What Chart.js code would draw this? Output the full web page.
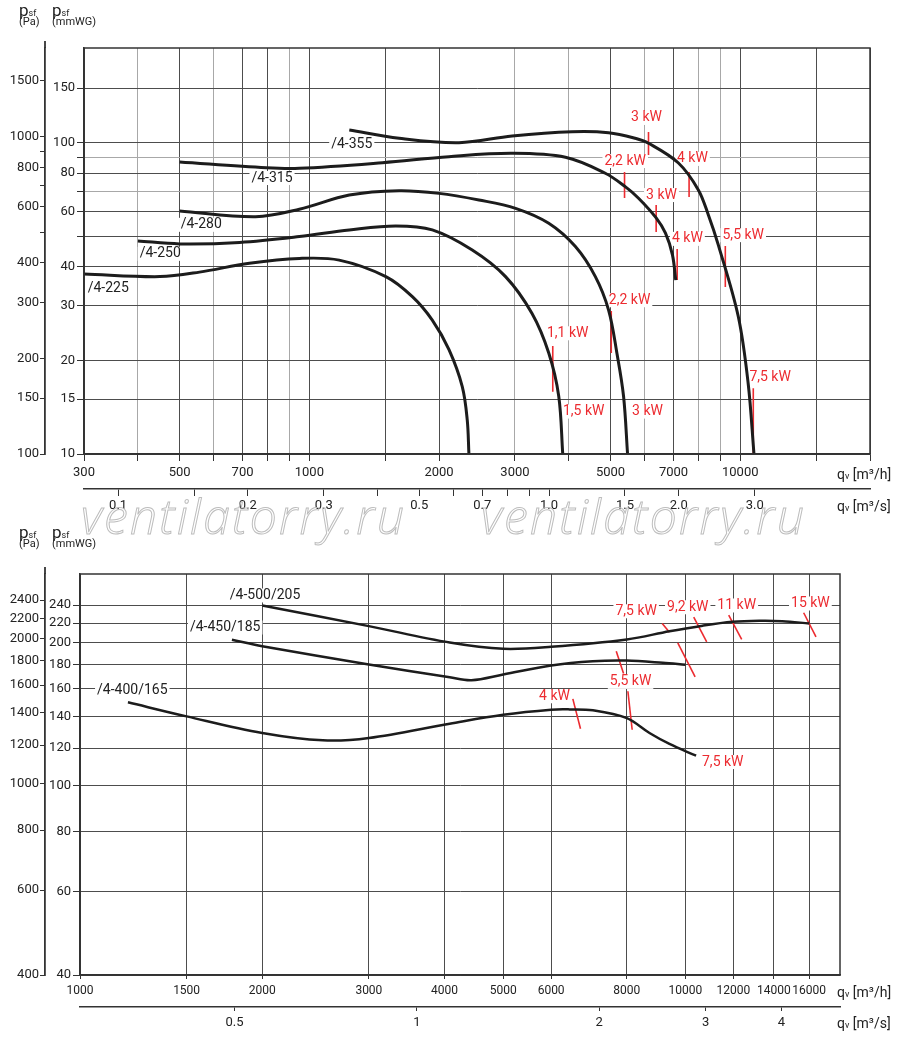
<!DOCTYPE html>
<html>
<head>
<meta charset="utf-8">
<script src="https://cdn.jsdelivr.net/npm/chart.js@4.4.1/dist/chart.umd.min.js"></script>
<style>
  html, body { margin: 0; padding: 0; background: #fff; width: 900px; height: 1042px; overflow: hidden; }
  body { position: relative; font-family: Roboto, sans-serif; color: #222; }
  .panel { position: absolute; left: 0; width: 900px; }
  #topWrap { top: 0; height: 520px; }
  #botWrap { top: 520px; height: 522px; }
  .hdr { position: absolute; line-height: 1; white-space: nowrap; }
  .hdr .p { font-size: 17px; }
  .hdr .sf { font-size: 9px; }
  .hdr .u { font-size: 11px; margin-top: -3px; }
  .unit { position: absolute; font-size: 14px; line-height: 1; white-space: nowrap; }
  .unit small { font-size: 9px; }
  .wm { position: absolute; font: italic 300 48px "Open Sans", sans-serif; letter-spacing: 2.3px; line-height: 1;
        color: transparent; -webkit-text-stroke: 1px #bdbdbd; white-space: nowrap; pointer-events: none; }
</style>
</head>
<body>
<div class="panel" id="topWrap"><canvas id="topChart"></canvas></div>
<div class="panel" id="botWrap"><canvas id="botChart"></canvas></div>

<div class="hdr" style="left:19px;top:2px"><span class="p">p</span><span class="sf">sf</span><div class="u">(Pa)</div></div>
<div class="hdr" style="left:52px;top:2px"><span class="p">p</span><span class="sf">sf</span><div class="u">(mmWG)</div></div>
<div class="hdr" style="left:19px;top:524px"><span class="p">p</span><span class="sf">sf</span><div class="u">(Pa)</div></div>
<div class="hdr" style="left:52px;top:524px"><span class="p">p</span><span class="sf">sf</span><div class="u">(mmWG)</div></div>

<div class="unit" style="left:837px;top:467px">q<small>v</small> [m³/h]</div>
<div class="unit" style="left:837px;top:499px">q<small>v</small> [m³/s]</div>
<div class="unit" style="left:837px;top:985px">q<small>v</small> [m³/h]</div>
<div class="unit" style="left:837px;top:1016px">q<small>v</small> [m³/s]</div>

<div class="wm" style="left:81px;top:492px">ventilatorry.ru</div>
<div class="wm" style="left:481px;top:492px">ventilatorry.ru</div>

<script>
// ---- upper chart: /4-225 ... /4-355, [m3/h, Pa]
const fan225 = [[300, 369], [450, 362], [556, 374], [726, 399], [948, 413], [1173, 408], [1505, 362],
  [1734, 313], [1929, 264], [2109, 213], [2264, 163], [2325, 128], [2346, 100]];
const fan250 = [[400, 469], [500, 459], [689, 464], [948, 484], [1238, 508], [1587, 523], [1929, 508],
  [2388, 439], [2853, 362], [3287, 277], [3594, 208], [3791, 152], [3873, 100]];
const fan280 = [[500, 583], [750, 559], [948, 590], [1238, 654], [1616, 675], [2000, 662], [2475, 631],
  [3010, 594], [3594, 533], [4144, 450], [4610, 362], [4948, 284], [5172, 208], [5360, 152], [5476, 100]];
const fan315 = [[500, 831], [795, 797], [948, 794], [1478, 827], [2109, 864], [2955, 885], [3929, 860],
  [4862, 766], [5408, 695], [5807, 639], [6380, 554], [6706, 496], [6960, 424], [7084, 353]];
const fan355 = [[1238, 1048], [1616, 987], [2225, 956], [2955, 1004], [4069, 1035], [4948, 1028],
  [5705, 987], [6124, 952], [7186, 825], [7993, 679], [8433, 566], [8895, 455], [9894, 271],
  [10430, 167], [10760, 100]];

// motor power marks: [m3/h, Pa from, Pa to]
const topPowerLines = [[6124, 1033, 874], [5388, 773, 640], [7607, 773, 645], [6380, 608, 500],
  [7138, 442, 353], [9232, 452, 336], [3672, 219, 157], [5019, 282, 208], [10720, 161, 100]];
const topPowerLabels = [["3 kW", 6058, 1144], ["2,2 kW", 5408, 837], ["4 kW", 7743, 850],
  ["3 kW", 6564, 654], ["4 kW", 7539, 476], ["5,5 kW", 10160, 489], ["1,1 kW", 3977, 240],
  ["1,5 kW", 4331, 136], ["2,2 kW", 5535, 305], ["3 kW", 6091, 136], ["7,5 kW", 11730, 174]];
const topNames = [["/4-355", 1124, 947], ["/4-315", 734, 740], ["/4-280", 503, 527],
  ["/4-250", 404, 427], ["/4-225", 306, 333]];

const topFlowTicks = [300, 400, 500, 600, 700, 800, 900, 1000, 1500, 2000, 3000, 4000, 5000, 6000,
  7000, 8000, 9000, 10000, 15000, 20000];
const topFlowLabels = [300, 500, 700, 1000, 2000, 3000, 5000, 7000, 10000];
const topFlowSecTicks = [0.1, 0.15, 0.2, 0.3, 0.4, 0.5, 0.6, 0.7, 0.8, 0.9, 1.0, 1.5, 2.0, 3.0];
const topFlowSecLabels = [0.1, 0.2, 0.3, 0.5, 0.7, 1.0, 1.5, 2.0, 3.0];
const topPaTicks = [100, 150, 200, 300, 400, 500, 600, 700, 800, 900, 1000, 1500];
const topPaLabels = [100, 150, 200, 300, 400, 600, 800, 1000, 1500];
const topMmTicks = [10, 15, 20, 30, 40, 50, 60, 70, 80, 90, 100, 150];
const topMmLabels = [10, 15, 20, 30, 40, 60, 80, 100, 150];

// ---- lower chart: /4-400/165 ... /4-500/205, [m3/h, Pa]
const fan400 = [[1200, 1473], [1500, 1377], [2000, 1272], [2518, 1228], [3000, 1242], [4080, 1330],
  [5000, 1388], [6000, 1422], [6437, 1424], [7031, 1418], [7985, 1367], [8722, 1272], [9410, 1207],
  [10414, 1141]];
const fan450 = [[1782, 1986], [2000, 1926], [3000, 1764], [4080, 1660], [4431, 1637], [5000, 1682],
  [6000, 1756], [7031, 1792], [7985, 1798], [9175, 1779], [10000, 1762]];
const fan500 = [[2000, 2340], [3000, 2120], [4080, 1960], [5000, 1902], [6000, 1920], [8000, 1989],
  [9410, 2069], [10678, 2125], [11967, 2164], [13248, 2175], [14455, 2171], [16020, 2147]];

// slanted marks: [[m3/h, Pa], [m3/h, Pa]]
const botPowerLines = [[[6516, 1497], [6709, 1298]], [[8034, 1553], [8166, 1292]],
  [[7686, 1880], [7903, 1690]], [[9712, 1957], [10375, 1663]], [[9154, 2147], [9410, 2059]],
  [[10320, 2212], [10842, 1967]], [[11788, 2234], [12385, 1989]], [[15677, 2260], [16430, 2014]]];
const botPowerLabels = [["4 kW", 6077, 1516], ["5,5 kW", 8116, 1624], ["7,5 kW", 8291, 2276],
  ["9,2 kW", 10088, 2320], ["11 kW", 12153, 2340], ["15 kW", 16083, 2362], ["7,5 kW", 11524, 1107]];
const botNames = [["/4-500/205", 1768, 2455], ["/4-450/185", 1519, 2106], ["/4-400/165", 1067, 1558]];

const botFlowTicks = [1000, 1500, 2000, 3000, 4000, 5000, 6000, 8000, 10000, 12000, 14000, 16000];
const botFlowSecTicks = [0.5, 1, 2, 3, 4];
const botPaTicks = [400, 600, 800, 1000, 1200, 1400, 1600, 1800, 2000, 2200, 2400];
const botMmTicks = [40, 60, 80, 100, 120, 140, 160, 180, 200, 220, 240];

const INK = "#1c1c1c";
const RED = "#ec2b30";
const AXIS = "#333";
const GRID_DARK = "#4d4d4d";
const GRID_LIGHT = "#a8a8a8";
const FONT = { family: "Roboto", size: 13 };

function fixedTicks(values) {
  return (scale) => { scale.ticks = values.map((v) => ({ value: v })); };
}

function onlyLabels(labeled, fmt = String) {
  return (v) => (labeled.includes(v) ? fmt(v) : "");
}

function curve(points, width) {
  return {
    data: points.map(([x, y]) => ({ x, y })),
    borderColor: INK, borderWidth: width, pointRadius: 0,
    tension: 0.35, xAxisID: "x", yAxisID: "pa",
  };
}

function mark(a, b) {
  return {
    data: [{ x: a[0], y: a[1] }, { x: b[0], y: b[1] }],
    borderColor: RED, borderWidth: 1.6, pointRadius: 0, tension: 0, xAxisID: "x", yAxisID: "pa",
  };
}

// label boxes: white patch goes under the curves, text goes over them
function eachLabel(chart, opts, fn) {
  const { ctx, scales } = chart;
  ctx.font = "14px Roboto";
  const put = (t, q, p, align, color) => {
    const w = ctx.measureText(t).width;
    const x = scales.x.getPixelForValue(q);
    fn(t, align === "center" ? x - w / 2 : x, scales.pa.getPixelForValue(p), w, color);
  };
  opts.names.forEach(([t, q, p]) => put(t, q, p, "left", "#222"));
  opts.power.forEach(([t, q, p]) => put(t, q, p, "center", RED));
}

const annotate = {
  id: "annotate",
  beforeDatasetsDraw(chart, args, opts) {
    const { ctx } = chart;
    ctx.save();
    ctx.fillStyle = "#fff";
    eachLabel(chart, opts, (t, x, y, w) => ctx.fillRect(x - 2, y - 7, w + 4, 14));
    ctx.restore();
  },
  afterDatasetsDraw(chart, args, opts) {
    const { ctx, chartArea: a, scales } = chart;
    ctx.save();
    ctx.strokeStyle = AXIS;
    ctx.lineWidth = 1.5;
    ctx.strokeRect(a.left, a.top, a.right - a.left, a.bottom - a.top);
    // pressure axis line runs a little above the plot frame
    ctx.lineWidth = 1.8;
    ctx.beginPath();
    ctx.moveTo(scales.pa.right, a.top);
    ctx.lineTo(scales.pa.right, a.top - 7);
    ctx.stroke();
    ctx.textBaseline = "middle";
    ctx.textAlign = "left";
    eachLabel(chart, opts, (t, x, y, w, color) => {
      ctx.fillStyle = color;
      ctx.fillText(t, x, y);
    });
    ctx.restore();
  },
};

function buildChart(id, c) {
  const lightGrid = (set) => (g) => (g.tick && set.includes(g.tick.value) ? GRID_LIGHT : GRID_DARK);
  return new Chart(document.getElementById(id), {
    type: "line",
    data: { datasets: c.datasets },
    options: {
      responsive: true,
      maintainAspectRatio: false,
      animation: false,
      events: [],
      layout: { padding: c.padding },
      plugins: {
        legend: { display: false },
        tooltip: { enabled: false },
        annotate: { names: c.names, power: c.power },
      },
      scales: {
        x: {
          type: "logarithmic", position: "bottom", weight: 0, min: c.qMin, max: c.qMax,
          afterBuildTicks: fixedTicks(c.flowTicks),
          afterFit: (s) => { s.height = c.xH; },
          ticks: { callback: onlyLabels(c.flowLabels), autoSkip: false, maxRotation: 0, minRotation: 0,
            color: "#222", font: { family: "Roboto", size: c.xFont }, padding: c.xPad },
          grid: { color: lightGrid(c.lightX), tickColor: AXIS, tickLength: c.xTick, lineWidth: 1 },
          border: { display: true, color: AXIS, width: 1.5 },
        },
        x2: {
          type: "logarithmic", position: "bottom", weight: 1, min: c.qMin / 3600, max: c.qMax / 3600,
          afterBuildTicks: fixedTicks(c.secTicks),
          afterFit: (s) => { s.height = c.x2H; },
          ticks: { callback: onlyLabels(c.secLabels, c.secFmt), autoSkip: false, maxRotation: 0, minRotation: 0,
            color: "#222", font: FONT, padding: c.x2Pad },
          grid: { drawOnChartArea: false, tickColor: AXIS, tickLength: c.x2Tick },
          border: { display: true, color: AXIS, width: 1.5 },
        },
        pa: {
          type: "logarithmic", position: "left", weight: 1, min: c.paMin, max: c.paMax,
          afterBuildTicks: fixedTicks(c.paTicks),
          afterFit: (s) => { s.width = c.paW; },
          ticks: { callback: onlyLabels(c.paLabels), autoSkip: false, color: "#222", font: FONT, padding: 1 },
          grid: { drawOnChartArea: false, tickColor: AXIS, tickLength: 5 },
          border: { display: true, color: AXIS, width: 1.8 },
        },
        mm: {
          type: "logarithmic", position: "left", weight: 0, min: c.mmMin, max: c.mmMax,
          afterBuildTicks: fixedTicks(c.mmTicks),
          afterFit: (s) => { s.width = c.mmW; },
          ticks: { callback: onlyLabels(c.mmLabels), autoSkip: false, color: "#222", font: FONT, padding: 2 },
          grid: { color: lightGrid(c.lightY), tickColor: AXIS, tickLength: 7, lineWidth: 1 },
          border: { display: true, color: AXIS, width: 1.5 },
        },
      },
    },
    plugins: [annotate],
  });
}

buildChart("topChart", {
  datasets: [
    curve(fan225, 3), curve(fan250, 3), curve(fan280, 3), curve(fan315, 3), curve(fan355, 3),
    ...topPowerLines.map(([q, p1, p2]) => mark([q, p1], [q, p2])),
  ],
  names: topNames,
  power: topPowerLabels,
  padding: { top: 48, right: 30, bottom: 0, left: 0 },
  qMin: 300, qMax: 20000,
  flowTicks: topFlowTicks, flowLabels: topFlowLabels,
  secTicks: topFlowSecTicks, secLabels: topFlowSecLabels, secFmt: (v) => v.toFixed(1),
  paMin: 100, paMax: 1900, paTicks: topPaTicks, paLabels: topPaLabels,
  mmMin: 10, mmMax: 202, mmTicks: topMmTicks, mmLabels: topMmLabels,
  paW: 45, mmW: 39, xH: 35, x2H: 31,
  xFont: 13, xTick: 7, xPad: 4, x2Tick: 7, x2Pad: 2,
  lightX: [400, 600, 900, 3000, 4000, 6000, 8000, 9000],
  lightY: [70, 90],
});

buildChart("botChart", {
  datasets: [
    curve(fan500, 2.5), curve(fan450, 2.5), curve(fan400, 2.5),
    ...botPowerLines.map(([a, b]) => mark(a, b)),
  ],
  names: botNames,
  power: botPowerLabels,
  padding: { top: 54, right: 60, bottom: 0, left: 0 },
  qMin: 1000, qMax: 18000,
  flowTicks: botFlowTicks, flowLabels: botFlowTicks,
  secTicks: botFlowSecTicks, secLabels: botFlowSecTicks, secFmt: String,
  paMin: 400, paMax: 2720, paTicks: botPaTicks, paLabels: botPaTicks,
  mmMin: 40, mmMax: 279, mmTicks: botMmTicks, mmLabels: botMmTicks,
  paW: 45, mmW: 35, xH: 32, x2H: 35,
  xFont: 12, xTick: 4, xPad: 5, x2Tick: 4, x2Pad: 4,
  lightX: [],
  lightY: [],
});
</script>
</body>
</html>
